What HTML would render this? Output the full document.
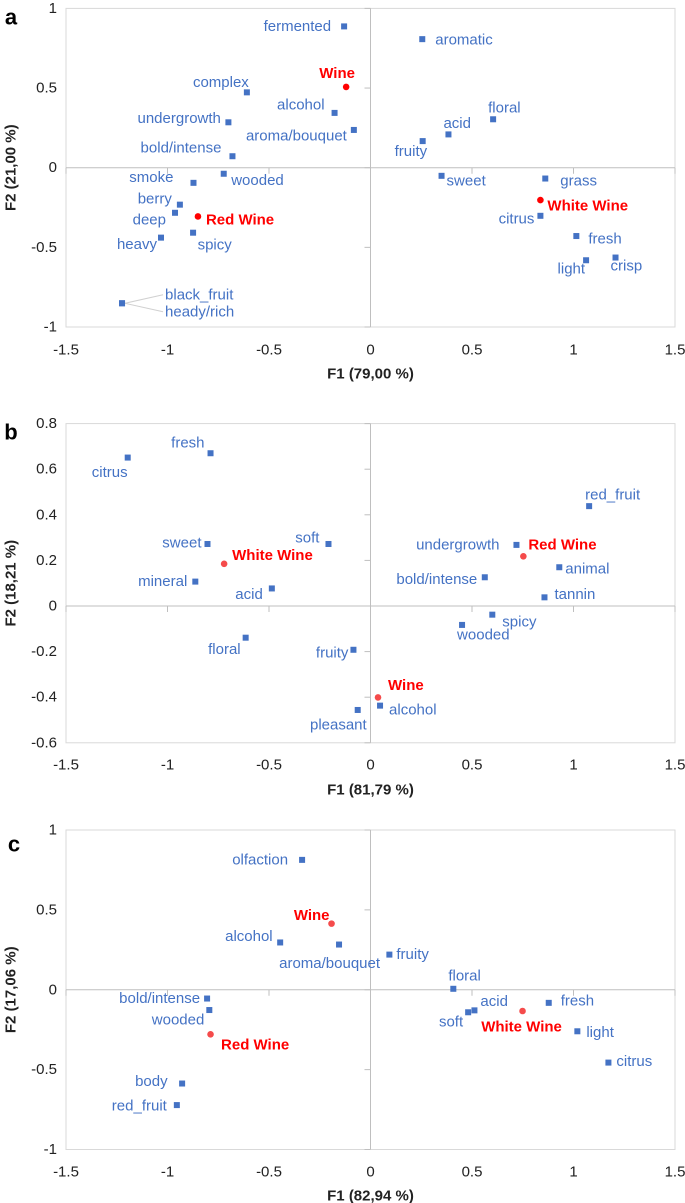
<!DOCTYPE html>
<html><head><meta charset="utf-8"><style>
html,body{margin:0;padding:0;background:#fff}
svg{display:block;font-family:"Liberation Sans",sans-serif}
</style></head><body>
<svg id="chart" width="685" height="1203" viewBox="0 0 685 1203" xmlns="http://www.w3.org/2000/svg"></svg>
<script>
// ---- Panel a data ----
const aNames = ["fermented","aromatic","Wine","complex","alcohol","undergrowth","aroma/bouquet","bold/intense","floral","acid","fruity","smoke","wooded","sweet","grass","White Wine","citrus","berry","deep","Red Wine","spicy","heavy","fresh","light","crisp","black_fruit","heady/rich"];
const aX = [-0.13,0.255,-0.12,-0.609,-0.177,-0.70,-0.082,-0.68,0.604,0.384,0.257,-0.872,-0.723,0.35,0.861,0.837,0.837,-0.939,-0.963,-0.85,-0.874,-1.032,1.014,1.062,1.207,-1.224,-1.224];
const aY = [0.887,0.807,0.507,0.473,0.344,0.285,0.237,0.072,0.304,0.209,0.167,-0.095,-0.038,-0.051,-0.068,-0.203,-0.302,-0.232,-0.283,-0.306,-0.408,-0.439,-0.429,-0.581,-0.564,-0.851,-0.851];
const aType = ["v","v","o","v","v","v","v","v","v","v","v","v","v","v","v","o","v","v","v","o","v","v","v","v","v","v","v"];
// ---- Panel b data ----
const bNames = ["fresh","citrus","red_fruit","sweet","soft","undergrowth","Red Wine","White Wine","animal","bold/intense","mineral","acid","tannin","spicy","wooded","floral","fruity","Wine","alcohol","pleasant"];
const bX = [-0.788,-1.196,1.077,-0.803,-0.207,0.719,0.753,-0.721,0.93,0.563,-0.863,-0.486,0.857,0.60,0.451,-0.615,-0.084,0.037,0.047,-0.063];
const bY = [0.670,0.651,0.438,0.272,0.272,0.268,0.218,0.185,0.170,0.126,0.107,0.077,0.038,-0.038,-0.083,-0.139,-0.192,-0.401,-0.437,-0.456];
const bType = ["v","v","v","v","v","v","o","o","v","v","v","v","v","v","v","v","v","o","v","v"];
// ---- Panel c data ----
const cNames = ["olfaction","Wine","alcohol","aroma/bouquet","fruity","floral","bold/intense","wooded","acid","soft","White Wine","fresh","light","Red Wine","citrus","body","red_fruit"];
const cX = [-0.337,-0.192,-0.445,-0.155,0.093,0.408,-0.805,-0.794,0.512,0.481,0.749,0.878,1.019,-0.788,1.172,-0.928,-0.954];
const cY = [0.813,0.414,0.296,0.283,0.220,0.006,-0.055,-0.127,-0.129,-0.141,-0.133,-0.082,-0.26,-0.279,-0.456,-0.587,-0.722];
const cType = ["v","o","v","v","v","v","v","v","v","v","o","v","v","o","v","v","v"];
// tick labels
const xTicks = [-1.5,-1,-0.5,0,0.5,1,1.5];
const xTickLabels = ["-1.5","-1","-0.5","0","0.5","1","1.5"];
const yTicksAC = [1,0.5,0,-0.5,-1];
const yTickLabelsAC = ["1","0.5","0","-0.5","-1"];
const yTicksB = [0.8,0.6,0.4,0.2,0,-0.2,-0.4,-0.6];
const yTickLabelsB = ["0.8","0.6","0.4","0.2","0","-0.2","-0.4","-0.6"];

// label placement styles: [dx, dy, anchor]
const aLab = [[-13,0,"end"],[13,1,"start"],[-9,-13.5,"middle"],[-26,-10,"middle"],[-10,-8,"end"],[-7.5,-4,"end"],[-7,6,"end"],[-11,-8,"end"],[-5,-11.5,"start"],[-5,-11,"start"],[4.5,10.5,"end"],[-20,-5.5,"end"],[7.5,6.5,"start"],[5,5,"start"],[15,2.5,"start"],[7,6,"start"],[-6,3,"end"],[-8,-5.5,"end"],[-9,7,"end"],[8,3.5,"start"],[4.5,12.5,"start"],[-4,7,"end"],[12,3,"start"],[-1,8.5,"end"],[-5,8.5,"start"],[43,-8.5,"start"],[43,8.5,"start"]];
const bLab = [[-6,-10,"end"],[-18,15,"middle"],[-4,-11,"start"],[-6,-1,"end"],[-9,-6,"end"],[-17,0,"end"],[5,-11.5,"start"],[8,-8.5,"start"],[6,2,"start"],[-7.5,2,"end"],[-8,0,"end"],[-9,6,"end"],[10,-3,"start"],[10,7.5,"start"],[-5,10,"start"],[-5,12,"end"],[-5,3,"end"],[10,-12,"start"],[9,4.5,"start"],[9,15,"end"]];
const cLab = [[-14,0,"end"],[-2,-8,"end"],[-7.5,-6,"end"],[41,19,"end"],[7,0,"start"],[-5,-13,"start"],[-7,0,"end"],[-5,10,"end"],[6,-9,"start"],[-5,9.5,"end"],[-1,16,"middle"],[12,-2,"start"],[9,1,"start"],[10.5,10.5,"start"],[8,-1,"start"],[-14.5,-2,"end"],[-10,1,"end"]];

const svg = document.getElementById('chart');
const NS = "http://www.w3.org/2000/svg";
function mk(tag, attrs, parent){const e=document.createElementNS(NS,tag);for(const k in attrs)e.setAttribute(k,attrs[k]);(parent||svg).appendChild(e);return e;}

const L=66, R=675;
function xS(v){return L + (v+1.5)/3*(R-L);}

function panel(cfg){
  const g = mk('g',{});
  
  
  const yS = v => cfg.top + (cfg.ymax - v)/(cfg.ymax-cfg.ymin)*(cfg.bot-cfg.top);
  const fr = mk('rect',{x:L,y:cfg.top,width:R-L,height:cfg.bot-cfg.top,fill:'none',stroke:'#d9d9d9','stroke-width':1},g);
  
  
  const x0=xS(0), y0=yS(0);
  const ax1 = mk('line',{x1:L,x2:R,y1:y0,y2:y0,stroke:'#bfbfbf','stroke-width':1},g);
  
  
  const ax2 = mk('line',{x1:x0,x2:x0,y1:cfg.top,y2:cfg.bot,stroke:'#bfbfbf','stroke-width':1},g);
  
  
  cfg.yt.forEach((v,i)=>{
    const y=yS(v);
    mk('line',{x1:x0-6,x2:x0,y1:y,y2:y,stroke:'#bfbfbf'},g);
    const t=mk('text',{x:57,y:y,'text-anchor':'end','dominant-baseline':'central','font-size':15,fill:'#222'},g);
    t.textContent=cfg.ytl[i];
    
    
  });
  xTicks.forEach((v,i)=>{
    const x=xS(v);
    mk('line',{x1:x,x2:x,y1:y0,y2:y0+6,stroke:'#bfbfbf'},g);
    const t=mk('text',{x:x,y:cfg.tickY,'text-anchor':'middle','dominant-baseline':'central','font-size':15,fill:'#222'},g);
    t.textContent=xTickLabels[i];
    
    
  });
  const xt=mk('text',{x:x0,y:cfg.titleY,'text-anchor':'middle','dominant-baseline':'central','font-size':15,'font-weight':'bold',fill:'#222'},g);
  xt.textContent=cfg.xtitle;
  
  
  const ym=(cfg.top+cfg.bot)/2;
  const yt=mk('text',{x:0,y:0,transform:`translate(11,${ym}) rotate(-90)`,'text-anchor':'middle','dominant-baseline':'central','font-size':15,'font-weight':'bold',fill:'#222'},g);
  yt.textContent=cfg.ytitle;
  
  
  const lt=mk('text',{x:cfg.letX,y:cfg.letY,'text-anchor':'middle','dominant-baseline':'central','font-size':22,'font-weight':'bold',fill:'#000'},g);
  lt.textContent=cfg.letter;
  
  
  // leader lines
  (cfg.leaders||[]).forEach(i=>{
    const px=xS(cfg.xs[i]), py=yS(cfg.ys[i]);
    const [dx,dy,an]=cfg.lab[i];
    let lx = px+dx + (an==='end'? -2 : -2);
    const ln=mk('line',{x1:px+3,y1:py,x2:lx,y2:py+dy,stroke:'#d0d0d0','stroke-width':1},g);
    
    
  });
  cfg.names.forEach((n,i)=>{
    const px=xS(cfg.xs[i]), py=yS(cfg.ys[i]);
    const isObs = cfg.types[i]==='o';
    let m;
    if(isObs){
      m=mk('circle',{cx:px,cy:py,r:3.3,fill:cfg.red},g);
    } else {
      m=mk('rect',{x:px-3,y:py-3,width:6,height:6,fill:'#4472C4'},g);
    }
    
    
    const [dx,dy,an]=cfg.lab[i];
    const t=mk('text',{x:px+dx,y:py+dy,'text-anchor':an,'dominant-baseline':'central','font-size':15,fill:isObs?'#ff0000':'#4472C4','font-weight':isObs?'bold':'normal'},g);
    t.textContent=n;
    
    
  });
}

panel({id:'a',top:8.4,bot:327,ymax:1,ymin:-1,yt:yTicksAC,ytl:yTickLabelsAC,tickY:350,titleY:374,xtitle:'F1 (79,00 %)',ytitle:'F2 (21,00 %)',letter:'a',letX:11,letY:17,names:aNames,xs:aX,ys:aY,types:aType,lab:aLab,red:'#ff0000',leaders:[25,26]});
panel({id:'b',top:423.6,bot:742.8,ymax:0.8,ymin:-0.6,yt:yTicksB,ytl:yTickLabelsB,tickY:765,titleY:790,xtitle:'F1 (81,79 %)',ytitle:'F2 (18,21 %)',letter:'b',letX:11,letY:432,names:bNames,xs:bX,ys:bY,types:bType,lab:bLab,red:'#f54b4b'});
panel({id:'c',top:830,bot:1149.5,ymax:1,ymin:-1,yt:yTicksAC,ytl:yTickLabelsAC,tickY:1172,titleY:1196,xtitle:'F1 (82,94 %)',ytitle:'F2 (17,06 %)',letter:'c',letX:14,letY:844,names:cNames,xs:cX,ys:cY,types:cType,lab:cLab,red:'#f54b4b'});
</script>
</body></html>
